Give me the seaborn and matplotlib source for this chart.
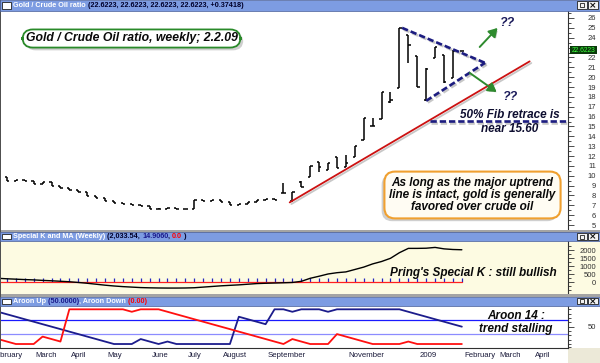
import pandas as pd
import numpy as np
import matplotlib
matplotlib.use('Agg')
import matplotlib.pyplot as plt
import matplotlib.dates as mdates
import matplotlib.patheffects as pe
import matplotlib.transforms as mtransforms
from matplotlib.patches import Rectangle
import seaborn as sb

sb.set_style('white')
plt.rcParams['font.family'] = ['Liberation Sans', 'DejaVu Sans']

# weekly bars, dated on Fridays
week_start = '2008-02-08'
ratio_open = [10.0, 9.9, 9.5, 9.6, 9.5, 9.2, 9.4, 9.0, 8.8, 8.6, 8.4, 7.9, 7.7, 7.4, 7.2, 7.1, 7.0, 6.95,
              6.65, 6.65, 6.7, 6.6, 6.65, 7.5, 7.45, 7.5, 7.35, 7.0, 7.1, 7.35, 7.5, 7.6, 8.3, 7.4, 9.4,
              9.9, 11.4, 10.6, 11.9, 10.9, 11.9, 13.6, 15.0, 15.75, 17.5, 18.9, 24.3, 22.1, 17.7, 21.9,
              22.2, 19.9, 22.6223]
ratio_high = [10.0, 9.9, 9.6, 9.6, 9.5, 9.4, 9.4, 9.0, 8.8, 8.6, 8.4, 7.9, 7.7, 7.4, 7.2, 7.1, 7.0, 6.95,
              6.7, 6.7, 6.7, 6.65, 7.5, 7.5, 7.55, 7.5, 7.35, 7.1, 7.35, 7.5, 7.6, 7.6, 9.3, 8.4, 9.45,
              11.0, 11.4, 11.3, 11.9, 12.1, 13.0, 15.9, 15.85, 18.5, 18.5, 25.0, 24.3, 22.1, 20.9, 23.1,
              22.2, 22.8, 22.6223]
ratio_low = [9.9, 9.5, 9.5, 9.5, 9.2, 9.2, 9.0, 8.8, 8.6, 8.4, 7.9, 7.7, 7.4, 7.2, 7.1, 7.0, 6.95, 6.65,
             6.6, 6.65, 6.6, 6.6, 6.65, 7.45, 7.45, 7.35, 7.0, 7.0, 7.1, 7.35, 7.5, 7.55, 8.25, 7.3, 8.9,
             9.9, 10.4, 10.6, 10.8, 10.9, 11.9, 13.6, 15.0, 15.75, 17.4, 18.9, 21.4, 19.0, 17.6, 21.9,
             19.4, 19.9, 22.6223]
ratio_close = [9.9, 9.5, 9.6, 9.5, 9.2, 9.4, 9.0, 8.8, 8.6, 8.4, 7.9, 7.7, 7.4, 7.2, 7.1, 7.0, 6.95, 6.65,
               6.65, 6.7, 6.6, 6.65, 7.5, 7.45, 7.5, 7.35, 7.0, 7.1, 7.35, 7.5, 7.6, 7.55, 8.3, 8.4, 8.9,
               11.0, 10.9, 11.3, 10.8, 11.3, 13.0, 15.9, 15.0, 18.5, 17.7, 25.0, 23.3, 19.0, 20.8, 23.1,
               19.5, 22.7, 22.6223]
special_k = [250, 220, 195, 170, 150, 120, 95, 65, 35, -10, -60, -120, -180, -230, -270, -300, -330,
             -345, -355, -360, -360, -355, -340, -300, -260, -220, -190, -160, -120, -80, -60, -45,
             -30, -10, 60, 250, 380, 520, 600, 650, 800, 950, 1150, 1300, 1500, 1850, 2120, 2120,
             2130, 2180, 2090, 2050, 2033.54]
special_k_signal = 14.906
special_k_ma = 0.0
aroon_up = [92.9, 85.7, 78.6, 71.4, 64.3, 57.1, 50.0, 42.9, 35.7, 28.6, 21.4, 14.3, 7.1, 0, 0, 0, 14.3,
            7.1, 0, 7.1, 0, 0, 0, 0, 0, 0, 0, 78.6, 71.4, 64.3, 57.1, 100, 100, 92.9, 100, 100, 100,
            92.9, 100, 100, 100, 100, 100, 100, 100, 100, 92.9, 85.7, 78.6, 71.4, 64.3, 57.1, 50.0]
aroon_down = [14.3, 7.1, 0, 0, 0, 21.4, 14.3, 7.1, 100, 100, 100, 100, 100, 100, 100, 92.9, 100, 100,
              100, 92.9, 85.7, 78.6, 71.4, 64.3, 57.1, 50.0, 42.9, 35.7, 28.6, 21.4, 14.3, 7.1, 0,
              14.3, 7.1, 0, 0, 0, 28.6, 21.4, 14.3, 7.1, 0, 0, 0, 0, 7.1, 0, 0, 0, 0, 0, 0]
month_labels = ['February', 'March', 'April', 'May', 'June', 'July', 'August', 'September', None,
                'November', '', '2009', 'February', 'March', 'April']
price_ticks = list(range(5, 27))

# analyst drawings, as (week index, ratio value)
trend_line = [(32.7, 7.3), (59.6, 21.6)]
tri_upper = [(45.3, 25.0), (54.6, 21.45)]
tri_lower = [(48.0, 17.6), (54.6, 21.45)]
fib_level = 15.55
fib_from = 48.4
arrow_up = [(54.0, 23.06), (56.0, 24.99)]
arrow_down = [(52.9, 20.42), (55.9, 18.5)]
qq_marks = [(57.1, 25.5), (57.4, 18.0)]

dates = pd.date_range(week_start, periods=len(ratio_close), freq='W-FRI')
x0 = mdates.date2num(pd.Timestamp(week_start))
xnum = mdates.date2num(dates)
wx = lambda w: x0 + 7 * w
df = pd.DataFrame({'x': xnum, 'spk': special_k, 'sig': special_k_signal, 'ma': special_k_ma,
                   'up': aroon_up, 'down': aroon_down})

W, H = 600, 363
fig = plt.figure(figsize=(W / 100, H / 100), dpi=100, facecolor='white')
pix = mtransforms.Affine2D().scale(1 / W, -1 / H).translate(0, 1) + fig.transFigure


def frac(xa, ya, xb, yb):
    return [xa / W, 1 - yb / H, (xb - xa) / W, (yb - ya) / H]


BAR = '#7d9ce2'
YEL = '#fdfbe2'
xlim = (x0 + 1.57, x0 + 447.3)

ax1 = fig.add_axes(frac(0, 10.5, 568, 230))
ax2 = fig.add_axes(frac(0, 241, 568, 294), facecolor=YEL)
ax3 = fig.add_axes(frac(0, 305.5, 568, 348))

# price bars
tick = 1.8
ax1.vlines(xnum, ratio_low, ratio_high, color='black', lw=1.1)
ax1.hlines(ratio_open, xnum - tick, xnum, color='black', lw=1.1)
ax1.hlines(ratio_close, xnum, xnum + tick, color='black', lw=1.1)

shadow = [pe.SimpleLineShadow(offset=(1.2, -1.2), shadow_color='#909090', alpha=0.5), pe.Normal()]
(a, b) = trend_line
ax1.plot([wx(a[0]), wx(b[0])], [a[1], b[1]], color='#cc1111', lw=1.3, path_effects=shadow)
for seg in (tri_upper, tri_lower):
    ax1.plot([wx(seg[0][0]), wx(seg[1][0])], [seg[0][1], seg[1][1]], color='#1c1c80', lw=1.9,
             dashes=(2.4, 1.1), path_effects=shadow, solid_capstyle='butt')
ax1.plot([wx(fib_from), xlim[1]], [fib_level, fib_level], color='#1c1c80', lw=1.9,
         dashes=(2.4, 1.1), path_effects=shadow)
for s, e in (arrow_up, arrow_down):
    an = ax1.annotate('', xy=(wx(e[0]), e[1]), xytext=(wx(s[0]), s[1]),
                      arrowprops=dict(arrowstyle='-|>,head_length=0.5,head_width=0.3',
                                      color='#2e8b2e', lw=1.4, shrinkA=0, shrinkB=0))
    an.arrow_patch.set_path_effects([pe.SimplePatchShadow(offset=(1, -1), alpha=0.3), pe.Normal()])
for qx, qy in qq_marks:
    ax1.text(wx(qx), qy, '??', color='#1a1a5a', fontsize=9, fontweight='bold', style='italic',
             ha='center', va='center')

# special K panel
ax2.plot(xnum, df['sig'], ls='none', marker=2, ms=3, mew=0.9, color='#2424c0', zorder=2)
sb.lineplot(data=df, x='x', y='ma', ax=ax2, color='#ff2020', lw=0.9, zorder=3)
sb.lineplot(data=df, x='x', y='spk', ax=ax2, color='black', lw=1.0, zorder=4)

# aroon panel
ax3.axhline(70, color='#1a1aff', lw=0.9)
ax3.axhline(30, color='#8c8cff', lw=0.9)
sb.lineplot(data=df, x='x', y='up', ax=ax3, color='#1c1c8c', lw=1.3)
sb.lineplot(data=df, x='x', y='down', ax=ax3, color='#ff1010', lw=1.3)

for ax in (ax1, ax2, ax3):
    ax.set_xlabel('')
    ax.set_ylabel('')
    for side in ('top', 'left', 'bottom'):
        ax.spines[side].set_visible(False)
    ax.spines['right'].set_color('#303030')
    ax.spines['right'].set_linewidth(0.8)
    ax.yaxis.tick_right()
    ax.tick_params(axis='y', which='major', length=4, width=0.6, colors='#303030', pad=16.4,
                   labelsize=5.5)
    ax.tick_params(axis='y', which='minor', length=2, width=0.6, colors='#303030')
    ax.grid(False)

ax1.set_yticks(price_ticks)
# the 23 label sits under the last-value flag
ax1.set_yticklabels(['' if v == 23 else str(v) for v in price_ticks])
ax1.set_yticks(np.arange(4.5, 26.6, 0.5), minor=True)
ax2.set_yticks([0, 500, 1000, 1500, 2000])
ax2.set_yticks(np.arange(-750, 2300, 250), minor=True)
ax3.set_yticks([50])
ax3.set_yticks([-10, 0, 12.5, 25, 37.5, 62.5, 75, 87.5, 100], minor=True)
for ax in (ax1, ax2, ax3):
    for lab in ax.get_yticklabels():
        lab.set_horizontalalignment('right')
ax1.set_xticks([])
ax2.set_xticks([])

# month axis
months = pd.date_range('2008-02-01', periods=len(month_labels), freq='MS')
fridays = [m + pd.Timedelta(days=(4 - m.weekday()) % 7) for m in months]
tick_pos = [mdates.date2num(f) for f, lab in zip(fridays, month_labels) if lab is not None]
tick_lab = [lab for lab in month_labels if lab is not None]
ax3.spines['bottom'].set_visible(True)
ax3.spines['bottom'].set_color('#303030')
ax3.set_xticks(tick_pos)
ax3.set_xticklabels([])
ax3.tick_params(axis='x', length=9, width=0.8, colors='#404040', direction='out')
btrans = mtransforms.blended_transform_factory(ax3.transData, pix)
for p, lab in zip(tick_pos, tick_lab):
    ax3.text(p + 1.6, 355.5, lab, transform=btrans, fontsize=5.6, color='#1a1a3a', ha='left',
             va='center', clip_on=False)

ax1.set_xlim(xlim)
ax1.set_ylim(4.5, 26.76)
ax2.set_xlim(xlim)
ax2.set_ylim(-731, 2581)
ax3.set_xlim(xlim)
ax3.set_ylim(-11.5, 111)

# backgrounds and frames
fig.patches.append(Rectangle((568, 241), 32, 53, transform=pix, fc=YEL, ec='none', zorder=-1))
fig.patches.append(Rectangle((568, 348), 32, 15, transform=pix, fc='#ece9d8', ec='none', zorder=-1))
for ys in (230, 294):
    fig.patches.append(Rectangle((0, ys), W, 2.5, transform=pix, fc='#a4a4a4', ec='none', zorder=2))
fig.patches.append(Rectangle((0, 0), 1.2, H - 15, transform=pix, fc='#505050', ec='none', zorder=2))

renderer = fig.canvas.get_renderer()


def title_bar(ya, yb, pieces):
    yc = (ya + yb) / 2
    fig.patches.append(Rectangle((0, ya), W, yb - ya, transform=pix, fc=BAR, ec='#4a5f98',
                                 lw=0.5, zorder=3))
    fig.patches.append(Rectangle((2, ya + 2), 9, yb - ya - 4, transform=pix, fc='white',
                                 ec='#202020', lw=0.6, zorder=4))
    for bx in (577, 588):
        fig.patches.append(Rectangle((bx, ya + 1.2), 9.5, yb - ya - 2.4, transform=pix,
                                     fc='#f2f2f2', ec='#202020', lw=0.6, zorder=4))
    fig.patches.append(Rectangle((579.5, yc - 2), 4.5, 4, transform=pix, fc='none', ec='#202020',
                                 lw=0.6, zorder=5))
    fig.text(592.8, yc + 0.3, '×', transform=pix, fontsize=6.5, fontweight='bold', ha='center',
             va='center', color='#101010', family='DejaVu Sans', zorder=5)
    x = 13
    for s, c in pieces:
        t = fig.text(x, yc + 0.3, s, transform=pix, color=c, fontsize=5.2, fontweight='bold',
                     ha='left', va='center', zorder=5)
        x += t.get_window_extent(renderer).width


title_bar(0, 10.5, [('Gold / Crude Oil ratio', 'white'),
                    (' (22.6223, 22.6223, 22.6223, 22.6223, +0.37418)', '#00002a')])
title_bar(232, 241, [('Special K and MA (Weekly)', 'white'), (' (2,033.54, ', '#00002a'),
                     ('14.9060', '#1a1a8c'), (', ', '#00002a'), ('0.0', '#ff0000'),
                     (' )', '#00002a')])
title_bar(296.5, 305.5, [('Aroon Up', 'white'), (' (50.0000)', '#1a1a8c'),
                         (', Aroon Down', 'white'), (' (0.00)', '#ff0000')])

# last value flag on the price scale
fig.patches.append(Rectangle((569.5, 45.8), 27.5, 8.6, transform=pix, fc='#0b3a0b', ec='none',
                             zorder=6))
fig.text(583.2, 50.3, '22.6223', transform=pix, fontsize=4.8, color='#3cff3c', ha='center',
         va='center', zorder=7)

# callouts
t = fig.text(131.5, 38.5, 'Gold / Crude Oil ratio, weekly; 2.2.09', transform=pix, fontsize=8.8,
             fontweight='bold', style='italic', ha='center', va='center', color='#0a0a0a',
             bbox=dict(boxstyle='round,pad=0.25,rounding_size=0.85', fc='white', ec='#2a8a2a',
                       lw=1.3), zorder=8)
t.get_bbox_patch().set_path_effects([pe.withSimplePatchShadow(offset=(2, -2),
                                                               shadow_rgbFace='#a0a0a0', alpha=0.5)])
t = fig.text(472.5, 195, 'As long as the major uptrend\nline is intact, gold is generally\n'
             'favored over crude oil', transform=pix, fontsize=8.5, fontweight='bold',
             style='italic', ha='center', va='center', multialignment='center', linespacing=1.05,
             color='#0a0a0a',
             bbox=dict(boxstyle='round,pad=0.42,rounding_size=0.9', fc='#fffcf3', ec='#f0a030',
                       lw=1.5), zorder=8)
t.get_bbox_patch().set_path_effects([pe.withSimplePatchShadow(offset=(-2, -2),
                                                               shadow_rgbFace='#a0a0a0', alpha=0.5)])
fig.text(510, 122, '50% Fib retrace is\nnear 15.60', transform=pix, fontsize=8.5,
         fontweight='bold', style='italic', ha='center', va='center', multialignment='center',
         color='#0e0e30', zorder=8)
fig.text(473, 272.7, "Pring's Special K : still bullish", transform=pix, fontsize=8.5,
         fontweight='bold', style='italic', ha='center', va='center', color='#0a0a0a', zorder=8)
fig.text(516, 322.4, 'Aroon 14 :\ntrend stalling', transform=pix, fontsize=8.5,
         fontweight='bold', style='italic', ha='center', va='center', multialignment='center',
         linespacing=1.12, color='#0a0a0a', zorder=8)

fig.savefig('out.png', dpi=100, facecolor='white')
